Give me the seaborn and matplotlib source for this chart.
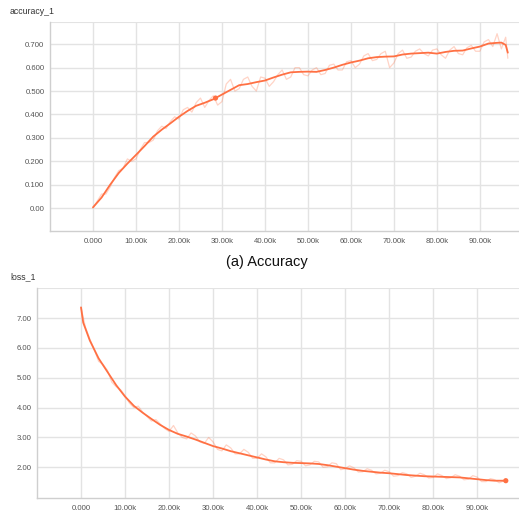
import matplotlib
matplotlib.use("Agg")
import matplotlib.pyplot as plt
import seaborn as sns
import pandas as pd

# ---------------- data ----------------
acc_steps = [0, 2, 4, 6, 8, 10, 12, 14, 16, 18, 20, 22, 24, 26, 28, 30, 32, 34, 36, 38,
             40, 42, 44, 46, 48, 50, 52, 54, 56, 58, 60, 62, 64, 66, 68, 70, 72, 74, 76, 78,
             80, 82, 84, 86, 88, 90, 92, 94, 95, 96, 96.5]
acc_smooth = [0.003, 0.045, 0.10, 0.15, 0.19, 0.227, 0.265, 0.305, 0.335, 0.362, 0.39, 0.415,
              0.437, 0.45, 0.465, 0.485, 0.505, 0.525, 0.53, 0.538, 0.545, 0.558, 0.57, 0.58,
              0.582, 0.583, 0.582, 0.59, 0.60, 0.612, 0.622, 0.63, 0.64, 0.645, 0.647, 0.648,
              0.656, 0.66, 0.662, 0.664, 0.66, 0.667, 0.672, 0.673, 0.682, 0.69, 0.703, 0.706,
              0.707, 0.697, 0.664]
acc_raw_steps = list(range(97)) + [96.5]
acc_raw = [0.0, 0.03, 0.06, 0.06, 0.09, 0.13, 0.16, 0.17, 0.21, 0.20,
           0.21, 0.25, 0.28, 0.28, 0.29, 0.33, 0.35, 0.34, 0.37, 0.39,
           0.38, 0.42, 0.43, 0.41, 0.45, 0.47, 0.43, 0.46, 0.48, 0.44,
           0.455, 0.53, 0.55, 0.50, 0.51, 0.55, 0.56, 0.52, 0.50, 0.56,
           0.555, 0.52, 0.54, 0.57, 0.59, 0.55, 0.56, 0.60, 0.60, 0.57,
           0.565, 0.59, 0.60, 0.57, 0.575, 0.61, 0.615, 0.59, 0.59, 0.625,
           0.63, 0.60, 0.615, 0.65, 0.66, 0.63, 0.635, 0.66, 0.67, 0.60,
           0.62, 0.66, 0.675, 0.64, 0.645, 0.67, 0.68, 0.66, 0.65, 0.675,
           0.68, 0.655, 0.64, 0.675, 0.69, 0.66, 0.655, 0.685, 0.695, 0.67,
           0.67, 0.71, 0.72, 0.69, 0.745, 0.68, 0.73, 0.64]
acc_marker_step = [28.5]
acc_marker_val = [0.47]

loss_steps = [0, 0.5, 1, 2, 4, 6, 8, 10, 12, 14, 16, 18, 20, 22, 24, 26, 28, 30, 32, 34, 36,
              38, 40, 42, 44, 46, 48, 50, 52, 54, 56, 58, 60, 62, 64, 66, 68, 70, 72, 74, 76,
              78, 80, 82, 84, 86, 88, 90, 92, 94, 96.5]
loss_smooth = [7.36, 6.85, 6.65, 6.25, 5.65, 5.2, 4.75, 4.37, 4.06, 3.83, 3.62, 3.42, 3.25,
               3.12, 3.03, 2.93, 2.82, 2.71, 2.63, 2.54, 2.47, 2.40, 2.33, 2.26, 2.20, 2.17,
               2.15, 2.14, 2.13, 2.11, 2.07, 2.02, 1.97, 1.92, 1.88, 1.85, 1.82, 1.80, 1.77,
               1.74, 1.72, 1.70, 1.69, 1.68, 1.67, 1.66, 1.63, 1.60, 1.57, 1.55, 1.55]
loss_raw_steps = list(range(97)) + [96.5]
loss_raw = [7.36, 6.7, 6.3, 5.95, 5.55, 5.45, 5.25, 4.85, 4.7, 4.6,
            4.4, 4.15, 4.0, 4.05, 3.85, 3.7, 3.55, 3.6, 3.45, 3.3,
            3.2, 3.4, 3.15, 3.0, 2.95, 3.15, 3.05, 2.85, 2.8, 3.0,
            2.85, 2.6, 2.55, 2.75, 2.65, 2.45, 2.45, 2.6, 2.5, 2.3,
            2.3, 2.45, 2.35, 2.15, 2.15, 2.3, 2.25, 2.08, 2.1, 2.22,
            2.2, 2.05, 2.08, 2.2, 2.18, 2.0, 2.02, 2.15, 2.12, 1.92,
            1.95, 2.05, 1.98, 1.84, 1.85, 1.95, 1.9, 1.78, 1.8, 1.9,
            1.85, 1.7, 1.72, 1.82, 1.78, 1.66, 1.7, 1.8, 1.75, 1.64,
            1.66, 1.78, 1.72, 1.62, 1.65, 1.75, 1.7, 1.58, 1.6, 1.72,
            1.67, 1.52, 1.52, 1.62, 1.58, 1.48, 1.54, 1.53]
loss_marker_step = [96.5]
loss_marker_val = [1.55]

x_ticks = [0, 10, 20, 30, 40, 50, 60, 70, 80, 90]
x_ticklabels = ["0.000", "10.00k", "20.00k", "30.00k", "40.00k", "50.00k",
                "60.00k", "70.00k", "80.00k", "90.00k"]
acc_yticks = [0.0, 0.1, 0.2, 0.3, 0.4, 0.5, 0.6, 0.7]
acc_yticklabels = ["0.00", "0.100", "0.200", "0.300", "0.400", "0.500", "0.600", "0.700"]
loss_yticks = [2, 3, 4, 5, 6, 7]
loss_yticklabels = ["2.00", "3.00", "4.00", "5.00", "6.00", "7.00"]

# ---------------- style ----------------
sns.set_style("white")
plt.rcParams["font.family"] = ["Liberation Sans", "DejaVu Sans"]
ORANGE = "#ff7043"
GRID = "#e3e3e3"
SPINE = "#cfcfcf"
TICKC = "#555555"

fig = plt.figure(figsize=(5.19, 5.17), dpi=100)
ax1 = fig.add_axes([50 / 519, 1 - 231 / 517, (519 - 50) / 519, 209 / 517])
ax2 = fig.add_axes([37 / 519, 1 - 497.7 / 517, (519 - 37) / 519, 209.4 / 517])


def style_axis(ax, yticks, yticklabels, xlim, ylim):
    ax.set_xlim(*xlim)
    ax.set_ylim(*ylim)
    ax.set_xticks(x_ticks)
    ax.set_xticklabels(x_ticklabels)
    ax.set_yticks(yticks)
    ax.set_yticklabels(yticklabels)
    ax.grid(True, color=GRID, linewidth=1.0)
    ax.axhline(ylim[1], color=GRID, linewidth=1.5, zorder=0)
    ax.set_axisbelow(True)
    for s in ["top", "right"]:
        ax.spines[s].set_visible(False)
    for s in ["left", "bottom"]:
        ax.spines[s].set_color(SPINE)
        ax.spines[s].set_linewidth(1.0)
    ax.tick_params(axis="both", length=0, labelsize=5.6, labelcolor=TICKC, pad=4)
    ax.tick_params(axis="x", pad=5)
    ax.set_xlabel("")
    ax.set_ylabel("")


# accuracy panel
df_acc_raw = pd.DataFrame({"step": acc_raw_steps, "value": acc_raw})
df_acc = pd.DataFrame({"step": acc_steps, "value": acc_smooth})
sns.lineplot(data=df_acc_raw, x="step", y="value", ax=ax1, color=ORANGE, alpha=0.3,
             linewidth=0.9, estimator=None, sort=False)
sns.lineplot(data=df_acc, x="step", y="value", ax=ax1, color=ORANGE, linewidth=1.3,
             estimator=None, sort=False)
sns.scatterplot(x=acc_marker_step, y=acc_marker_val, ax=ax1, color=ORANGE, s=14,
                edgecolor="none", zorder=5)
style_axis(ax1, acc_yticks, acc_yticklabels, (-10, 99.1), (-0.098, 0.795))

# loss panel
df_loss_raw = pd.DataFrame({"step": loss_raw_steps, "value": loss_raw})
df_loss = pd.DataFrame({"step": loss_steps, "value": loss_smooth})
sns.lineplot(data=df_loss_raw, x="step", y="value", ax=ax2, color=ORANGE, alpha=0.3,
             linewidth=0.9, estimator=None, sort=False)
sns.lineplot(data=df_loss, x="step", y="value", ax=ax2, color=ORANGE, linewidth=1.3,
             estimator=None, sort=False)
sns.scatterplot(x=loss_marker_step, y=loss_marker_val, ax=ax2, color=ORANGE, s=14,
                edgecolor="none", zorder=5)
style_axis(ax2, loss_yticks, loss_yticklabels, (-10, 99.5), (0.98, 8.0))

# titles / caption
fig.text(10 / 519, 1 - 11 / 517, "accuracy_1", fontsize=6.3, color="#333333",
         ha="left", va="center")
fig.text(10 / 519, 1 - 277 / 517, "loss_1", fontsize=6.3, color="#333333",
         ha="left", va="center")
fig.text(267 / 519, 1 - 262 / 517, "(a) Accuracy", fontsize=10.5, color="#111111",
         ha="center", va="center")

fig.savefig("out.png", dpi=100)
